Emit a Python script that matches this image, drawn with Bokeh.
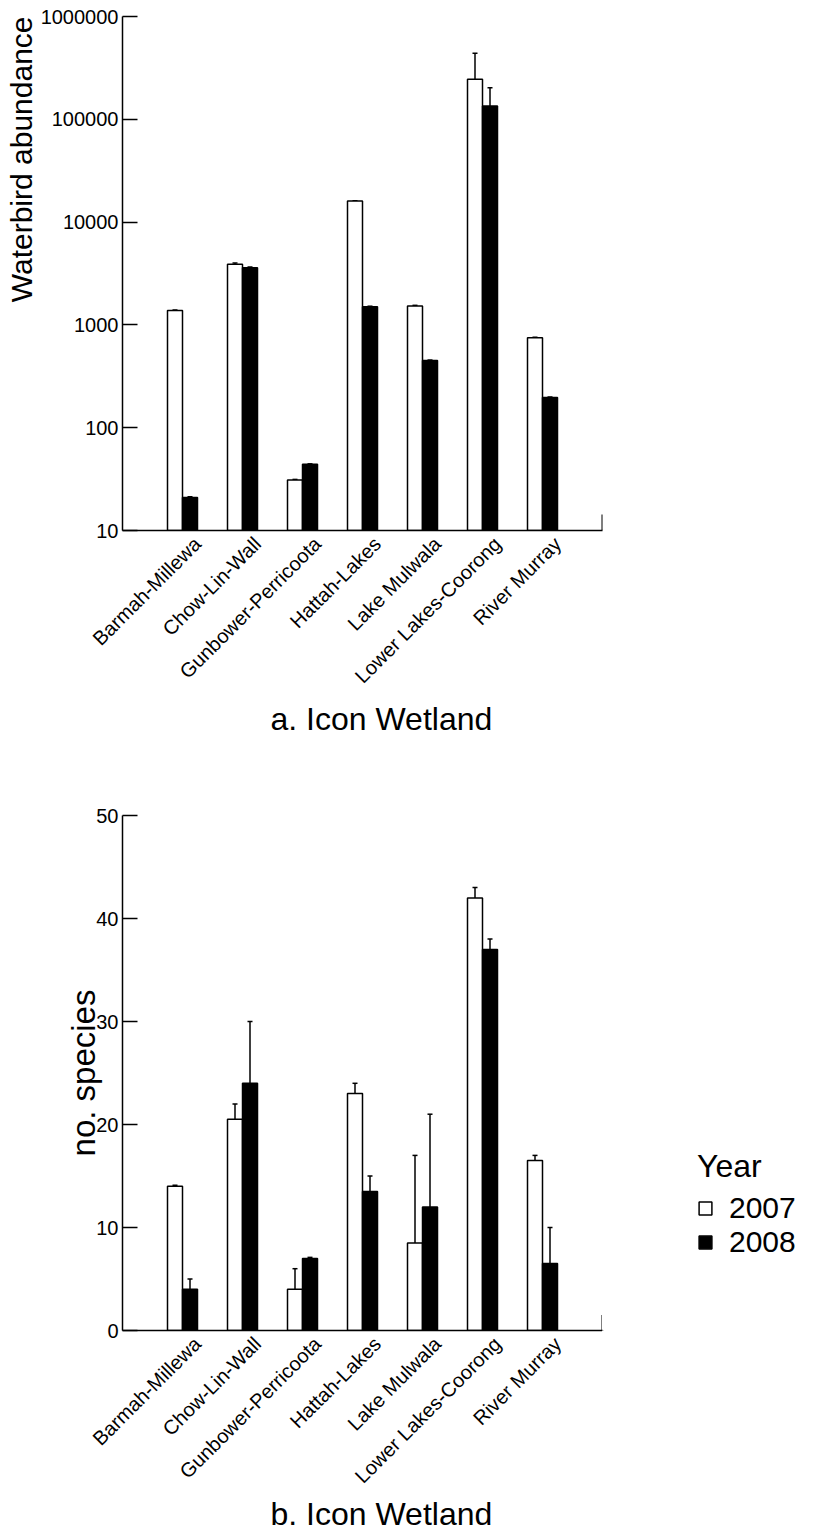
import math
from bokeh.plotting import figure
from bokeh.models import (Range1d, FixedTicker, NumeralTickFormatter, Whisker, TeeHead,
                          ColumnDataSource, Title, Legend, LegendItem)
from bokeh.layouts import column, row
from bokeh.embed import file_html
from bokeh.resources import INLINE

# ---------------- data ----------------
wetlands = ["Barmah-Millewa", "Chow-Lin-Wall", "Gunbower-Perricoota", "Hattah-Lakes",
            "Lake Mulwala", "Lower Lakes-Coorong", "River Murray"]
years = ["2007", "2008"]

abundance_2007 = [1380, 3900, 31, 16000, 1530, 245000, 750]
abundance_2007_err = [15, 100, 0.4, 150, 20, 195000, 8]
abundance_2008 = [21, 3600, 44, 1500, 450, 135000, 197]
abundance_2008_err = [0.3, 60, 0.5, 20, 5, 68000, 2]

species_2007 = [14, 20.5, 4, 23, 8.5, 42, 16.5]
species_2007_err = [0.1, 1.5, 2, 1, 8.5, 1, 0.5]
species_2008 = [4, 24, 7, 13.5, 12, 37, 6.5]
species_2008_err = [1, 6, 0.1, 1.5, 9, 1, 3.5]

abundance_ticks = [10, 100, 1000, 10000, 100000, 1000000]
species_ticks = [0, 10, 20, 30, 40, 50]

FONT = "Liberation Sans"
BAR_W = 0.25
LW = 1.5
LABEL_SHIFT = 0.25


def style_axes(p, ticks, fmt=None):
    ya = p.yaxis[0]
    ya.ticker = FixedTicker(ticks=ticks, minor_ticks=[])
    if fmt is not None:
        ya.formatter = fmt
    ya.major_tick_in = 15
    ya.major_tick_out = 0
    ya.minor_tick_line_color = None
    ya.axis_line_width = LW
    ya.major_tick_line_width = LW
    ya.major_label_text_font = FONT
    ya.major_label_text_font_size = "20px"
    ya.major_label_text_color = "black"
    ya.major_label_standoff = 4
    ya.axis_line_color = "black"
    ya.major_tick_line_color = "black"

    xa = p.xaxis[0]
    n = len(wetlands)
    tick_pos = [i + 1 + LABEL_SHIFT for i in range(n)]
    xa.ticker = FixedTicker(ticks=tick_pos, minor_ticks=[])
    xa.major_label_overrides = {t: w for t, w in zip(tick_pos, wetlands)}
    xa.major_label_orientation = math.pi / 4
    xa.major_tick_line_color = None
    xa.minor_tick_line_color = None
    xa.axis_line_width = LW
    xa.axis_line_color = "black"
    xa.major_label_text_font = FONT
    xa.major_label_text_font_size = "20px"
    xa.major_label_text_color = "black"
    xa.major_label_standoff = 4


def add_bars(p, v07, e07, v08, e08, base):
    n = len(wetlands)
    pos = list(range(1, n + 1))
    s07 = ColumnDataSource(dict(x=[x - BAR_W / 2 for x in pos], top=v07,
                                upper=[v + e for v, e in zip(v07, e07)]))
    s08 = ColumnDataSource(dict(x=[x + BAR_W / 2 for x in pos], top=v08,
                                upper=[v + e for v, e in zip(v08, e08)]))
    for s in (s07, s08):
        w = Whisker(base="x", upper="upper", lower="top", source=s,
                    upper_head=TeeHead(size=5, line_width=LW, line_color="black"),
                    lower_head=None, line_width=LW, line_color="black", level="underlay")
        p.add_layout(w)
    p.vbar(x="x", width=BAR_W, top="top", bottom=base, source=s07,
           fill_color="white", line_color="black", line_width=LW)
    p.vbar(x="x", width=BAR_W, top="top", bottom=base, source=s08,
           fill_color="black", line_color="black", line_width=LW)


def base_fig(**kw):
    p = figure(frame_width=480, x_range=Range1d(0, len(wetlands) + 1),
               output_backend="svg", toolbar_location=None,
               min_border_left=122, **kw)
    p.grid.visible = False
    p.outline_line_color = None
    p.background_fill_color = "white"
    p.border_fill_color = "white"
    return p


def bottom_title(p, text, standoff):
    p.add_layout(Title(text=text, align="left", offset=148, text_font=FONT,
                       text_font_size="32px", text_font_style="normal",
                       text_color="black", standoff=standoff), "below")


# ---------------- panel a ----------------
p1 = base_fig(frame_height=514, y_range=Range1d(abundance_ticks[0], abundance_ticks[-1]),
              y_axis_type="log", min_border_top=16, min_border_bottom=240,
              min_border_right=218)
style_axes(p1, abundance_ticks, NumeralTickFormatter(format="0"))
add_bars(p1, abundance_2007, abundance_2007_err, abundance_2008, abundance_2008_err,
         abundance_ticks[0])
xe = p1.x_range.end
p1.segment(x0=[xe], y0=[abundance_ticks[0]], x1=[xe], y1=[abundance_ticks[0] * 1.43],
           line_color="black", line_width=2)
p1.add_layout(Title(text="Waterbird abundance", align="right", text_font=FONT,
                    text_font_size="30px", text_font_style="normal", text_color="black",
                    standoff=0), "left")
bottom_title(p1, "a. Icon Wetland", 1)

# ---------------- panel b ----------------
p2 = base_fig(frame_height=515, y_range=Range1d(species_ticks[0], species_ticks[-1]),
              min_border_top=45, min_border_bottom=209, min_border_right=0)
style_axes(p2, species_ticks)
add_bars(p2, species_2007, species_2007_err, species_2008, species_2008_err,
         species_ticks[0])
p2.segment(x0=[xe], y0=[species_ticks[0]], x1=[xe], y1=[1.5],
           line_color="black", line_width=2)
ya2 = p2.yaxis[0]
ya2.axis_label = "no. species"
ya2.axis_label_text_font = FONT
ya2.axis_label_text_font_size = "33px"
ya2.axis_label_text_font_style = "normal"
ya2.axis_label_text_color = "black"
ya2.axis_label_standoff = -9
bottom_title(p2, "b. Icon Wetland", -10)

# ---------------- legend ----------------
p_leg = figure(width=218, height=769, output_backend="svg", toolbar_location=None,
               x_axis_location=None, y_axis_location=None,
               x_range=Range1d(0, 1), y_range=Range1d(0, 1), min_border=0)
p_leg.grid.visible = False
p_leg.outline_line_color = None
# swatch renderers for the legend (kept outside the visible range)
leg07 = p_leg.vbar(x=[-1], top=[-1], width=0.1, fill_color="white", line_color="black",
                   line_width=LW)
leg08 = p_leg.vbar(x=[-1], top=[-1], width=0.1, fill_color="black", line_color="black",
                   line_width=LW)

legend_style = dict(orientation="vertical", glyph_width=16, glyph_height=16,
                    label_standoff=16, label_text_font=FONT, label_text_font_size="30px",
                    label_text_color="black", label_height=20, label_text_line_height=0.8,
                    title_text_font=FONT, title_text_font_size="32px",
                    title_text_font_style="normal", title_text_color="black",
                    title_standoff=6, spacing=0, padding=0, margin=0,
                    border_line_color=None, background_fill_alpha=0)
legend_a = Legend(items=[LegendItem(label=years[0], renderers=[leg07], index=0)],
                  title="Year", location=(95, 105), **legend_style)
legend_b = Legend(items=[LegendItem(label=years[1], renderers=[leg08], index=0)],
                  location=(95, 71), **legend_style)
p_leg.add_layout(legend_a, "center")
p_leg.add_layout(legend_b, "center")

layout = column(p1, row(p2, p_leg, spacing=0), spacing=0)
open("out.html", "w").write(file_html(layout, INLINE))
